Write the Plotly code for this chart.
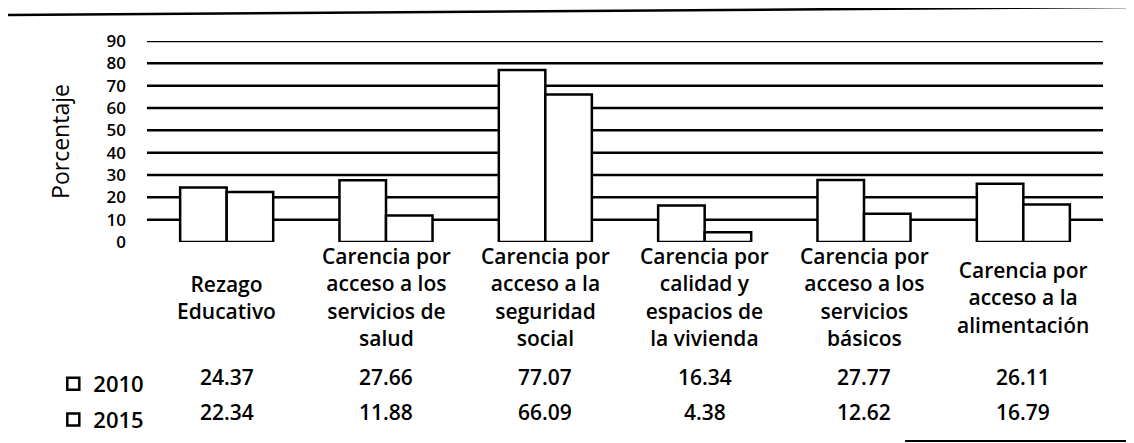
import plotly.graph_objects as go

categories = [
    "Rezago<br>Educativo",
    "Carencia por<br>acceso a los<br>servicios de<br>salud",
    "Carencia por<br>acceso a la<br>seguridad<br>social",
    "Carencia por<br>calidad y<br>espacios de<br>la vivienda",
    "Carencia por<br>acceso a los<br>servicios<br>básicos",
    "Carencia por<br>acceso a la<br>alimentación",
]
cat_keys = ["Rezago", "Salud", "Seguridad", "Vivienda", "Basicos", "Alimentacion"]
vals_2010 = [24.37, 27.66, 77.07, 16.34, 27.77, 26.11]
vals_2015 = [22.34, 11.88, 66.09, 4.38, 12.62, 16.79]
series_names = ["2010", "2015"]
y_ticks = [0, 10, 20, 30, 40, 50, 60, 70, 80, 90]
grid_vals = [10, 20, 30, 40, 50, 60, 70, 80, 90]

FONT = "Open Sans"

fig = go.Figure()
for name, vals in zip(series_names, [vals_2010, vals_2015]):
    fig.add_trace(go.Bar(
        x=cat_keys, y=vals, name=name, legendgroup=name,
        marker=dict(color="white", line=dict(color="black", width=2.5)),
    ))

# horizontal rules (grid) below the bars
for g in grid_vals:
    fig.add_shape(type="line", xref="paper", yref="y", x0=0, x1=1, y0=g, y1=g,
                  line=dict(color="black", width=2.5), layer="below")

# category labels
for k, lab in zip(cat_keys, categories):
    fig.add_annotation(x=k, xref="x", y=-0.274, yref="paper", text=lab,
                       showarrow=False, yanchor="middle", align="center",
                       font=dict(family=FONT, size=21, color="black", weight=600))

# data table rows
for row_y, vals in [(-0.672, vals_2010), (-0.846, vals_2015)]:
    for k, v in zip(cat_keys, vals):
        fig.add_annotation(x=k, xref="x", y=row_y, yref="paper", text=f"{v:.2f}",
                           showarrow=False, yanchor="middle",
                           font=dict(family=FONT, size=21, color="black", weight=600))

# decorative rules of the scanned page
fig.add_shape(type="line", xref="paper", yref="paper", x0=-0.146, x1=1.032,
              y0=1.129, y1=1.169, line=dict(color="black", width=2.5))
fig.add_shape(type="line", xref="paper", yref="paper", x0=0.793, x1=1.032,
              y0=-0.99, y1=-0.99, line=dict(color="black", width=2))

fig.update_layout(
    width=1126, height=435,
    margin=dict(l=139, r=31, t=33, b=201, autoexpand=False),
    paper_bgcolor="white", plot_bgcolor="white",
    barmode="group", bargap=0.416, bargroupgap=0,
    font=dict(family=FONT, color="black"),
    showlegend=True,
    legend=dict(x=-0.098, xanchor="left", y=-0.602, yanchor="top",
                orientation="v", traceorder="grouped", tracegroupgap=4,
                font=dict(family=FONT, size=22, color="black", weight=600),
                bgcolor="rgba(0,0,0,0)"),
    xaxis=dict(showticklabels=False, showgrid=False, zeroline=False, showline=False,
               ticks="", automargin=False),
    yaxis=dict(range=[0, 90], tickvals=y_ticks, showgrid=False, zeroline=False,
               showline=False, ticks="", ticklabelstandoff=20, automargin=False,
               tickfont=dict(family=FONT, size=17, color="black", weight=600),
               title=dict(text="Porcentaje", standoff=30,
                          font=dict(family=FONT, size=23, color="black"))),
)

fig.write_html("out.html")
